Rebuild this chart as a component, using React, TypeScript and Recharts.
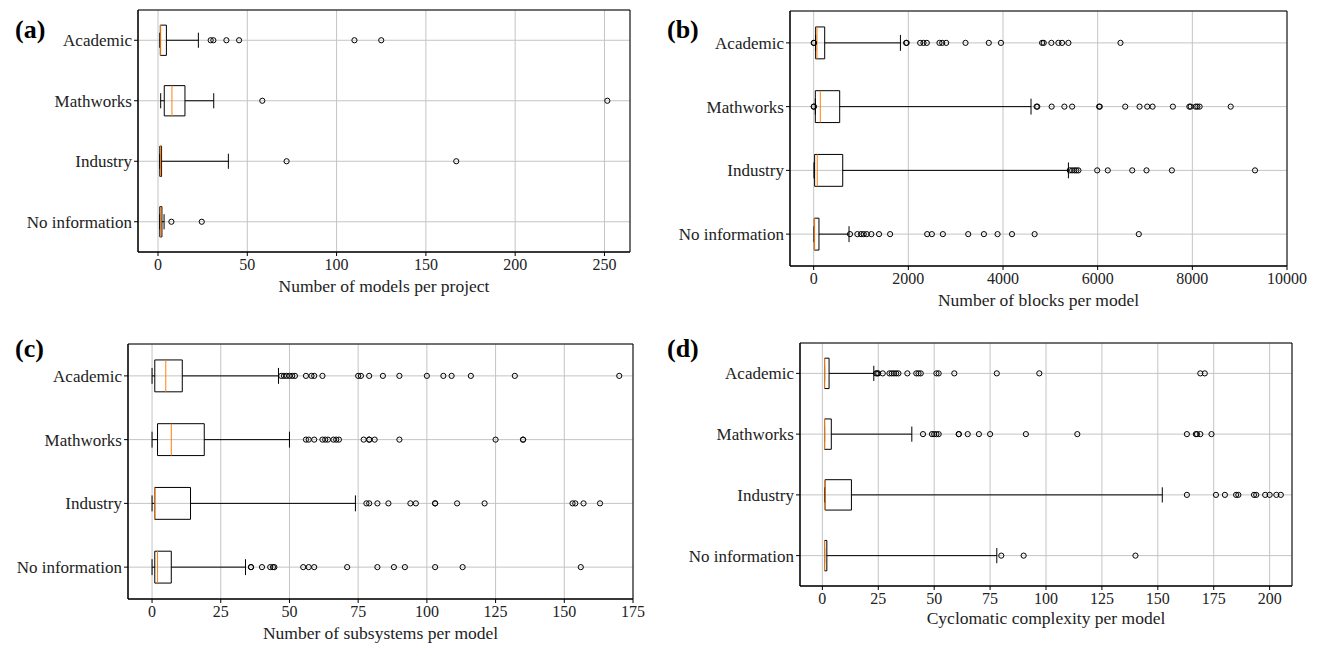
import React from 'react';
import { ScatterChart, Scatter, XAxis, YAxis, CartesianGrid, ReferenceArea, ReferenceLine } from 'recharts';

const categories = ['Academic', 'Mathworks', 'Industry', 'No information'];
const positions = [4, 3, 2, 1];

// (a) models per project
const modelsTicks = [0, 50, 100, 150, 200, 250];
const modelsWhiskerLow = [1, 1.5, 1, 1];
const modelsQ1 = [1.3, 3.5, 1, 1];
const modelsMedian = [1.5, 7.8, 1.5, 1.5];
const modelsQ3 = [4.7, 15.1, 2, 2.2];
const modelsWhiskerHigh = [22.6, 31.2, 39.4, 3.4];
const modelsOutliers = [
  [29.5, 31, 38.3, 45.4, 110, 125],
  [58.4, 251.6],
  [72, 167],
  [7.5, 24.5],
];

// (b) blocks per model
const blocksTicks = [0, 2000, 4000, 6000, 8000, 10000];
const blocksWhiskerLow = [42, 35, 6, 8];
const blocksQ1 = [42, 35, 20, 13];
const blocksMedian = [70, 140, 76, 20];
const blocksQ3 = [233, 550, 614, 112];
const blocksWhiskerHigh = [1833, 4592, 5382, 747];
const blocksOutliers = [
  [0, 8, 1953, 1965, 2250, 2320, 2390, 2658, 2715, 2800, 3208, 3700, 3957, 4826, 4860, 5022, 5170, 5248, 5382, 6482],
  [0, 6, 4710, 4725, 5028, 5297, 5460, 6030, 6045, 6582, 6885, 7047, 7160, 7589, 7937, 7965, 8070, 8106, 8154, 8811],
  [5410, 5460, 5508, 5550, 5593, 5990, 6214, 6730, 7032, 7568, 9324],
  [768, 923, 1001, 1058, 1121, 1219, 1381, 1615, 2398, 2497, 2730, 3265, 3597, 3885, 4190, 4668, 6869],
];

// (c) subsystems per model
const subsTicks = [0, 25, 50, 75, 100, 125, 150, 175];
const subsWhiskerLow = [0, 0, 0, 0];
const subsQ1 = [1, 2, 1, 1];
const subsMedian = [5, 7, 1, 2];
const subsQ3 = [11, 19, 14, 7];
const subsWhiskerHigh = [46, 50, 74, 34];
const subsOutliers = [
  [47, 48, 49, 50, 51, 52, 56, 58, 59, 62, 75, 76, 79, 84, 90, 100, 106, 109, 116, 132, 170],
  [56, 57, 59, 62, 63, 64, 66, 67, 68, 77, 79, 79, 81, 90, 125, 135, 135],
  [78, 79, 82, 86, 94, 96, 103, 103, 111, 121, 153, 154, 157, 163],
  [36, 36, 40, 43, 44, 44.5, 55, 57, 59, 71, 82, 88, 92, 103, 113, 156],
];

// (d) cyclomatic complexity per model
const cycTicks = [0, 25, 50, 75, 100, 125, 150, 175, 200];
const cycWhiskerLow = [1, 1, 1, 1];
const cycQ1 = [1, 1, 1.2, 1];
const cycMedian = [1, 1, 1.2, 1];
const cycQ3 = [3, 4, 13, 2];
const cycWhiskerHigh = [23, 40, 152, 78];
const cycOutliers = [
  [24, 24.5, 25, 27, 30, 31, 32, 33, 34, 38, 42, 43, 44, 51, 52, 59, 78, 97, 169, 171],
  [45, 49, 50, 51, 52, 61, 61, 65, 70, 75, 91, 114, 163, 167, 167.5, 169, 174],
  [163, 176, 180, 185, 186, 193, 194, 198, 200, 203, 205],
  [80, 90, 140],
];

const FONT = '"Liberation Serif", "Times New Roman", serif';
const TEXT = '#222';
const GRID = '#c4c4c4';
const MEDIAN = '#ff7f0e';

const Flier = (props: any) => (
  <circle cx={props.cx} cy={props.cy} r={2.6} fill="none" stroke="#000" strokeWidth={1} />
);

function BoxPanel(props: any) {
  const { left, top, width, height, yWidth, margin, domain, ticks, label, labelOffset,
    whiskerLow, q1, median, q3, whiskerHigh, outliers } = props;

  const points = outliers.flatMap((vals: number[], i: number) =>
    vals.map(v => ({ x: v, y: positions[i] })));

  const marks: React.ReactNode[] = [];
  categories.forEach((c, i) => {
    const p = positions[i];
    marks.push(
      <ReferenceLine key={`wl${i}`} segment={[{ x: whiskerLow[i], y: p }, { x: q1[i], y: p }]} stroke="#000" strokeWidth={1} />,
      <ReferenceLine key={`wh${i}`} segment={[{ x: q3[i], y: p }, { x: whiskerHigh[i], y: p }]} stroke="#000" strokeWidth={1} />,
      <ReferenceLine key={`cl${i}`} segment={[{ x: whiskerLow[i], y: p - 0.125 }, { x: whiskerLow[i], y: p + 0.125 }]} stroke="#000" strokeWidth={1} />,
      <ReferenceLine key={`ch${i}`} segment={[{ x: whiskerHigh[i], y: p - 0.125 }, { x: whiskerHigh[i], y: p + 0.125 }]} stroke="#000" strokeWidth={1} />,
      <ReferenceArea key={`b${i}`} x1={q1[i]} x2={q3[i]} y1={p - 0.25} y2={p + 0.25} fill="none" fillOpacity={0} stroke="#000" strokeWidth={1} />,
      <ReferenceLine key={`m${i}`} segment={[{ x: median[i], y: p - 0.25 }, { x: median[i], y: p + 0.25 }]} stroke={MEDIAN} strokeWidth={1} />,
    );
  });

  return (
    <div style={{ position: 'absolute', left, top, fontFamily: FONT }}>
      <ScatterChart width={width} height={height} margin={margin} style={{ fontFamily: FONT }}>
        <CartesianGrid stroke={GRID} strokeWidth={1} />
        <XAxis
          type="number"
          dataKey="x"
          domain={domain}
          allowDataOverflow
          ticks={ticks}
          interval={0}
          height={40}
          tickSize={4}
          tickMargin={3}
          axisLine={{ stroke: '#000' }}
          tickLine={{ stroke: '#000' }}
          tick={{ fill: TEXT, fontSize: 16, fontFamily: FONT }}
          label={{ value: label, position: 'insideBottom', offset: labelOffset, fill: TEXT, fontSize: 17.5, fontFamily: FONT }}
        />
        <YAxis
          type="number"
          dataKey="y"
          domain={[0.5, 4.5]}
          allowDataOverflow
          ticks={[1, 2, 3, 4]}
          interval={0}
          width={yWidth}
          tickSize={4}
          tickMargin={2}
          axisLine={{ stroke: '#000' }}
          tickLine={{ stroke: '#000' }}
          tick={{ fill: TEXT, fontSize: 17, fontFamily: FONT }}
          tickFormatter={(v: number) => categories[4 - v]}
        />
        {marks}
        <ReferenceArea x1={domain[0]} x2={domain[1]} y1={0.5} y2={4.5} fill="none" fillOpacity={0} stroke="#000" strokeWidth={1} />
        <Scatter data={points} shape={Flier} isAnimationActive={false} />
      </ScatterChart>
    </div>
  );
}

const tagStyle: React.CSSProperties = {
  position: 'absolute',
  fontFamily: FONT,
  fontWeight: 'bold',
  fontSize: 26,
  lineHeight: '26px',
  color: '#000',
};

export default function App() {
  return (
    <div style={{ position: 'absolute', left: 0, top: 0, width: 1320, height: 647, background: '#fff', fontFamily: FONT }}>
      <BoxPanel
        left={0} top={0} width={660} height={320} yWidth={138}
        margin={{ top: 10, right: 30, bottom: 28, left: 0 }}
        domain={[-11.2, 264.3]} ticks={modelsTicks}
        label="Number of models per project" labelOffset={0}
        whiskerLow={modelsWhiskerLow} q1={modelsQ1} median={modelsMedian} q3={modelsQ3}
        whiskerHigh={modelsWhiskerHigh} outliers={modelsOutliers}
      />
      <BoxPanel
        left={660} top={0} width={660} height={320} yWidth={130}
        margin={{ top: 11, right: 33, bottom: 14, left: 0 }}
        domain={[-500, 10000]} ticks={blocksTicks}
        label="Number of blocks per model" labelOffset={0}
        whiskerLow={blocksWhiskerLow} q1={blocksQ1} median={blocksMedian} q3={blocksQ3}
        whiskerHigh={blocksWhiskerHigh} outliers={blocksOutliers}
      />
      <BoxPanel
        left={0} top={320} width={660} height={327} yWidth={128}
        margin={{ top: 24, right: 27, bottom: 8, left: 0 }}
        domain={[-8.75, 175]} ticks={subsTicks}
        label="Number of subsystems per model" labelOffset={0}
        whiskerLow={subsWhiskerLow} q1={subsQ1} median={subsMedian} q3={subsQ3}
        whiskerHigh={subsWhiskerHigh} outliers={subsOutliers}
      />
      <BoxPanel
        left={660} top={320} width={660} height={327} yWidth={140}
        margin={{ top: 23, right: 28, bottom: 21, left: 0 }}
        domain={[-10, 210]} ticks={cycTicks}
        label="Cyclomatic complexity per model" labelOffset={2}
        whiskerLow={cycWhiskerLow} q1={cycQ1} median={cycMedian} q3={cycQ3}
        whiskerHigh={cycWhiskerHigh} outliers={cycOutliers}
      />
      <div style={{ ...tagStyle, left: 15, top: 17 }}>(a)</div>
      <div style={{ ...tagStyle, left: 667, top: 17 }}>(b)</div>
      <div style={{ ...tagStyle, left: 15, top: 336 }}>(c)</div>
      <div style={{ ...tagStyle, left: 667, top: 336 }}>(d)</div>
    </div>
  );
}
